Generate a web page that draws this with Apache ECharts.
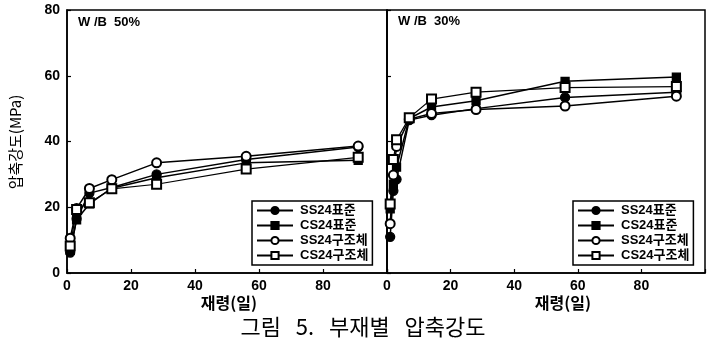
<!DOCTYPE html>
<html><head><meta charset="utf-8">
<script src="https://cdn.jsdelivr.net/npm/echarts@6/dist/echarts.min.js"></script>
<style>html,body{margin:0;padding:0;background:#fff}#c{width:712px;height:346px}</style>
</head><body><div id="c"></div>
<script>
// ---- data ----
const seriesNames = ['SS24표준', 'CS24표준', 'SS24구조체', 'CS24구조체'];
const leftDays = [1, 3, 7, 14, 28, 56, 91];
const leftSSstd = [6.2, 16.5, 24.3, 26.0, 30.0, 34.5, 38.3];
const leftCSstd = [7.0, 16.2, 21.0, 25.8, 29.0, 33.5, 34.3];
const leftSSstr = [10.6, 19.6, 25.7, 28.4, 33.5, 35.5, 38.6];
const leftCSstr = [8.2, 19.3, 21.4, 25.6, 27.0, 31.6, 35.2];
const rightDays = [1, 2, 3, 7, 14, 28, 56, 91];
const rightSSstd = [11.0, 25.0, 28.5, 46.5, 48.0, 50.0, 53.4, 55.0];
const rightCSstd = [19.5, 27.0, 32.2, 47.0, 50.5, 52.4, 58.3, 59.6];
const rightSSstr = [15.0, 29.8, 38.5, 46.8, 48.5, 49.7, 50.8, 53.8];
const rightCSstr = [21.0, 34.5, 40.5, 47.2, 52.9, 55.0, 56.4, 56.7];
const xTicks = [0, 20, 40, 60, 80];
const yTicks = [0, 20, 40, 60, 80];
const panelLabels = ['W /B  50%', 'W /B  30%'];
const xAxisTitle = '재령(일)';
const yAxisTitle = '압축강도(MPa)';
const figureTitle = '그림   5.   부재별   압축강도';

// ---- chart ----
const latin = "'Liberation Sans', Arial, 'Noto Sans CJK KR', sans-serif";
const kr = "'Noto Sans CJK KR', sans-serif";
const symbols = ['circle', 'rect', 'emptyCircle', 'emptyRect'];
const sizes = [9, 8, 9, 9];
const leftVals = [leftSSstd, leftCSstd, leftSSstr, leftCSstr];
const rightVals = [rightSSstd, rightCSstd, rightSSstr, rightCSstr];

function mkSeries(days, vals, idx) {
  return vals.map((v, i) => ({
    name: seriesNames[i],
    type: 'line',
    xAxisIndex: idx, yAxisIndex: idx,
    data: days.map((d, k) => [d, v[k]]),
    symbol: symbols[i], symbolSize: sizes[i],
    showAllSymbol: true,
    lineStyle: { color: '#000', width: i === 3 ? 1.2 : 1.5 },
    itemStyle: { color: '#000', borderColor: '#000', borderWidth: 1.3 },
    emphasis: { disabled: true },
    animation: false
  }));
}

const tickFmt = v => (xTicks.indexOf(v) >= 0 ? String(v) : '');
function xAx(idx) {
  return {
    type: 'value', gridIndex: idx, min: 0, max: 100, interval: 20,
    axisLine: { lineStyle: { color: '#000', width: 1.5 } },
    axisTick: { inside: true, length: 4, lineStyle: { color: '#000', width: 1.2 } },
    axisLabel: { color: '#000', fontSize: 14, fontWeight: 'bold', fontFamily: latin, margin: 6, formatter: tickFmt },
    splitLine: { show: false }
  };
}
function yAx(idx, labels) {
  return {
    type: 'value', gridIndex: idx, min: 0, max: 80, interval: 20,
    axisLine: { lineStyle: { color: '#000', width: 1.5 } },
    axisTick: { inside: true, length: 4, lineStyle: { color: '#000', width: 1.2 } },
    axisLabel: { show: labels, color: '#000', fontSize: 14, fontWeight: 'bold', fontFamily: latin, margin: 7,
      formatter: v => (yTicks.indexOf(v) >= 0 ? String(v) : '') },
    splitLine: { show: false }
  };
}
function legend(left) {
  return {
    data: seriesNames, orient: 'vertical', left: left, top: 201,
    itemWidth: 36, itemHeight: 9, itemGap: 2,
    padding: [3, 4, 3, 4],
    borderColor: '#000', borderWidth: 1.5, backgroundColor: '#fff',
    selectedMode: false,
    textStyle: { color: '#000', fontSize: 13, fontWeight: 'bold', fontFamily: latin, padding: [0, 0, 0, 2] }
  };
}

const chart = echarts.init(document.getElementById('c'), null, { renderer: 'canvas' });
chart.setOption({
  animation: false,
  backgroundColor: '#fff',
  grid: [
    { left: 67, top: 10, width: 320, height: 263, show: true, borderColor: '#000', borderWidth: 1.5, backgroundColor: 'transparent' },
    { left: 387, top: 10, width: 318, height: 263, show: true, borderColor: '#000', borderWidth: 1.5, backgroundColor: 'transparent' }
  ],
  xAxis: [xAx(0), xAx(1)],
  yAxis: [yAx(0, true), yAx(1, false)],
  legend: [legend(252), legend(573)],
  series: [...mkSeries(leftDays, leftVals, 0), ...mkSeries(rightDays, rightVals, 1)],
  graphic: [
    { type: 'text', left: 78, top: 16, style: { text: panelLabels[0], font: "bold 13px " + latin, fill: '#000' } },
    { type: 'text', left: 398, top: 15, style: { text: panelLabels[1], font: "bold 13px " + latin, fill: '#000' } },
    { type: 'text', x: 229, y: 303, style: { text: xAxisTitle, font: "bold 16px " + kr, fill: '#000', align: 'center', verticalAlign: 'middle' } },
    { type: 'text', x: 563, y: 303, style: { text: xAxisTitle, font: "bold 16px " + kr, fill: '#000', align: 'center', verticalAlign: 'middle' } },
    { type: 'text', x: 15, y: 142, rotation: Math.PI / 2, style: { text: yAxisTitle, font: "15px " + kr, fill: '#000', align: 'center', verticalAlign: 'middle' } },
    { type: 'text', x: 363, y: 327, style: { text: figureTitle, font: "22px " + kr, fill: '#000', align: 'center', verticalAlign: 'middle' } }
  ]
});
</script>
</body></html>
